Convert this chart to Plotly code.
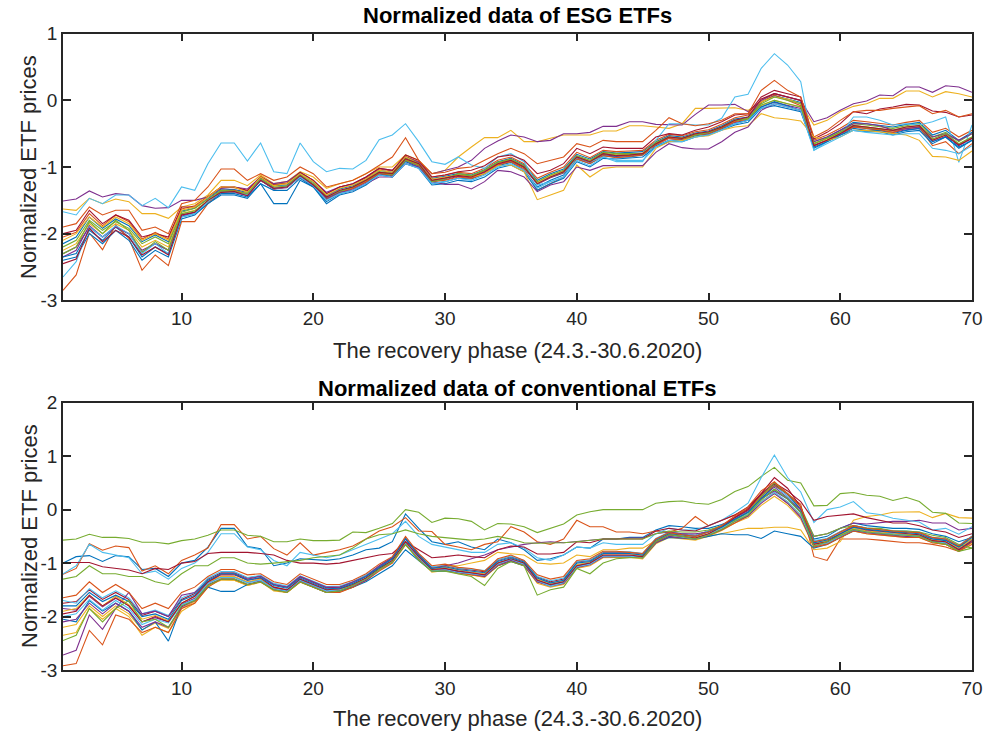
import plotly.graph_objects as go

# Trading days of the recovery phase (24.3.-30.6.2020)
days = list(range(1, 71))

# ---------------- Normalized ESG ETF prices ----------------
esg_01 = [-2.35, -2.3, -1.95, -2.1, -1.9, -2.05, -2.35, -2.2, -2.3, -1.75,
          -1.7, -1.55, -1.4, -1.4, -1.45, -1.25, -1.55, -1.55, -1.2, -1.3,
          -1.52, -1.4, -1.35, -1.25, -1.1, -1.15, -0.92, -1.0, -1.25, -1.22,
          -1.17, -1.18, -1.1, -0.98, -0.93, -1.05, -1.3, -1.2, -1.12, -0.88,
          -0.95, -0.83, -0.85, -0.85, -0.82, -0.68, -0.6, -0.6, -0.53, -0.5,
          -0.43, -0.35, -0.3, -0.1, -0.02, -0.08, -0.15, -0.7, -0.62, -0.52,
          -0.42, -0.45, -0.45, -0.5, -0.45, -0.42, -0.62, -0.55, -0.7, -0.6]
esg_02 = [-2.85, -2.62, -1.99, -2.24, -1.87, -2.07, -2.55, -2.32, -2.48, -1.82,
          -1.82, -1.55, -1.35, -1.35, -1.4, -1.2, -1.33, -1.3, -1.15, -1.28,
          -1.48, -1.38, -1.32, -1.22, -1.1, -1.12, -0.9, -0.98, -1.22, -1.2,
          -1.15, -1.17, -1.1, -0.97, -0.92, -1.03, -1.35, -1.25, -1.15, -0.88,
          -0.95, -0.83, -0.86, -0.84, -0.82, -0.67, -0.57, -0.6, -0.52, -0.5,
          -0.42, -0.32, -0.28, -0.03, 0.08, 0.0, -0.08, -0.68, -0.6, -0.5,
          -0.4, -0.42, -0.44, -0.48, -0.42, -0.4, -0.68, -0.62, -0.8, -0.65]
esg_03 = [-1.63, -1.65, -1.47, -1.55, -1.48, -1.52, -1.7, -1.7, -1.77, -1.6,
          -1.55, -1.42, -1.2, -1.2, -1.28, -1.12, -1.25, -1.22, -1.07, -1.15,
          -1.32, -1.25, -1.2, -1.1, -1.0, -1.0, -0.82, -0.9, -1.1, -1.05,
          -0.85, -0.7, -0.56, -0.56, -0.45, -0.62, -0.62, -0.57, -0.52, -0.52,
          -0.52, -0.46, -0.46, -0.38, -0.38, -0.4, -0.42, -0.35, -0.12, -0.12,
          -0.12, -0.11, -0.15, -0.02, 0.05, 0.02, -0.05, -0.37, -0.3, -0.17,
          -0.09, -0.05, 0.03, 0.03, 0.14, 0.14, 0.05, 0.13, 0.1, 0.05]
esg_04 = [-1.51, -1.48, -1.36, -1.45, -1.4, -1.42, -1.58, -1.62, -1.61, -1.5,
          -1.5, -1.45, -1.32, -1.3, -1.33, -1.15, -1.25, -1.22, -1.08, -1.2,
          -1.38, -1.3, -1.25, -1.15, -1.02, -1.05, -0.85, -0.93, -1.1, -1.05,
          -1.0, -0.9, -0.72, -0.61, -0.52, -0.55, -0.62, -0.6, -0.5, -0.5,
          -0.48, -0.39, -0.39, -0.32, -0.32, -0.36, -0.37, -0.37, -0.21, -0.07,
          -0.07, -0.06, -0.17, 0.0, 0.1, 0.05, 0.0, -0.32, -0.26, -0.15,
          -0.05, -0.01, 0.08, 0.07, 0.2, 0.2, 0.12, 0.22, 0.2, 0.12]
esg_05 = [-2.2, -2.1, -1.8, -1.95, -1.82, -1.92, -2.15, -2.05, -2.15, -1.68,
          -1.62, -1.48, -1.35, -1.36, -1.42, -1.18, -1.3, -1.3, -1.13, -1.27,
          -1.47, -1.37, -1.3, -1.2, -1.08, -1.12, -0.9, -0.97, -1.2, -1.17,
          -1.12, -1.13, -1.05, -0.93, -0.88, -0.98, -1.22, -1.12, -1.05, -0.83,
          -0.9, -0.78, -0.8, -0.8, -0.8, -0.65, -0.55, -0.57, -0.52, -0.48,
          -0.4, -0.3, -0.28, -0.05, 0.05, 0.0, -0.05, -0.65, -0.57, -0.47,
          -0.35, -0.37, -0.4, -0.42, -0.38, -0.35, -0.55, -0.48, -0.62, -0.5]
esg_06 = [-1.67, -1.72, -1.47, -1.55, -1.42, -1.42, -1.58, -1.47, -1.61, -1.3,
          -1.35, -0.95, -0.64, -0.64, -0.91, -0.64, -1.07, -1.1, -0.64, -0.92,
          -1.07, -1.02, -1.03, -0.9, -0.59, -0.52, -0.35, -0.62, -0.92, -0.96,
          -0.85, -0.97, -1.02, -0.85, -0.8, -0.92, -1.27, -1.22, -1.15, -0.85,
          -0.92, -0.85, -0.92, -0.92, -0.92, -0.6, -0.35, -0.35, -0.37, -0.37,
          -0.27, 0.05, 0.09, 0.48, 0.7, 0.53, 0.28, -0.75, -0.62, -0.52,
          -0.25, -0.25, -0.3, -0.37, -0.35, -0.37, -0.32, -0.25, -0.93, -0.37]
esg_07 = [-2.0, -1.95, -1.65, -1.85, -1.72, -1.8, -2.05, -2.0, -2.05, -1.6,
          -1.6, -1.45, -1.3, -1.3, -1.35, -1.15, -1.27, -1.25, -1.08, -1.2,
          -1.4, -1.3, -1.25, -1.15, -1.02, -1.05, -0.82, -0.9, -1.15, -1.12,
          -1.07, -1.05, -0.98, -0.85, -0.82, -0.9, -1.1, -1.05, -0.95, -0.72,
          -0.8, -0.7, -0.72, -0.72, -0.72, -0.55, -0.5, -0.52, -0.45, -0.4,
          -0.32, -0.22, -0.2, 0.05, 0.15, 0.1, 0.05, -0.58, -0.48, -0.35,
          -0.17, -0.2, -0.13, -0.1, -0.06, -0.07, -0.16, -0.18, -0.25, -0.22]
esg_08 = [-2.4, -2.35, -2.0, -2.15, -1.95, -2.1, -2.4, -2.25, -2.35, -1.78,
          -1.72, -1.55, -1.42, -1.42, -1.47, -1.25, -1.35, -1.35, -1.17, -1.3,
          -1.55, -1.42, -1.37, -1.27, -1.12, -1.15, -0.95, -1.02, -1.27, -1.25,
          -1.2, -1.22, -1.15, -1.02, -0.97, -1.07, -1.35, -1.25, -1.17, -0.92,
          -1.0, -0.87, -0.88, -0.87, -0.85, -0.7, -0.62, -0.62, -0.55, -0.52,
          -0.45, -0.37, -0.33, -0.12, -0.08, -0.12, -0.17, -0.72, -0.62, -0.52,
          -0.45, -0.47, -0.47, -0.52, -0.47, -0.45, -0.65, -0.55, -0.72, -0.6]
esg_09 = [-1.9, -1.85, -1.6, -1.72, -1.65, -1.65, -1.95, -1.9, -2.0, -1.55,
          -1.5, -1.3, -1.03, -1.03, -1.2, -1.1, -1.2, -1.15, -1.0, -1.1,
          -1.3, -1.25, -1.2, -1.1, -0.98, -0.85, -0.56, -0.9, -1.1, -1.08,
          -1.02, -1.0, -0.9, -0.8, -0.72, -0.8, -0.95, -0.9, -0.85, -0.65,
          -0.7, -0.6, -0.62, -0.62, -0.62, -0.45, -0.26, -0.35, -0.38, -0.35,
          -0.3, -0.2, -0.2, 0.15, 0.3, 0.15, 0.05, -0.55, -0.45, -0.3,
          -0.17, -0.15, -0.15, -0.12, -0.1, -0.08, -0.2, -0.15, -0.25, -0.2]
esg_10 = [-2.1, -2.0, -1.75, -1.9, -1.75, -1.85, -2.1, -2.0, -2.1, -1.65,
          -1.6, -1.45, -1.3, -1.3, -1.38, -1.15, -1.28, -1.25, -1.1, -1.22,
          -1.42, -1.32, -1.27, -1.18, -1.05, -1.08, -0.85, -0.95, -1.18, -1.15,
          -1.12, -1.15, -1.1, -0.98, -0.97, -1.07, -1.49, -1.42, -1.35, -0.97,
          -1.15, -1.02, -1.0, -1.0, -1.0, -0.72, -0.62, -0.6, -0.55, -0.53,
          -0.45, -0.4, -0.38, -0.2, -0.26, -0.28, -0.31, -0.55, -0.6, -0.55,
          -0.45, -0.45, -0.47, -0.5, -0.52, -0.6, -0.84, -0.85, -0.9, -0.76]
esg_11 = [-2.3, -2.2, -1.9, -2.05, -1.9, -2.0, -2.25, -2.15, -2.25, -1.72,
          -1.68, -1.52, -1.38, -1.38, -1.43, -1.2, -1.33, -1.3, -1.15, -1.28,
          -1.47, -1.38, -1.35, -1.25, -1.15, -1.15, -0.95, -1.0, -1.22, -1.26,
          -1.26, -1.33, -1.22, -1.05, -1.07, -1.15, -1.37, -1.27, -1.22, -1.0,
          -1.05, -0.98, -0.98, -0.98, -0.98, -0.78, -0.65, -0.71, -0.73, -0.73,
          -0.62, -0.48, -0.4, -0.15, -0.05, -0.1, -0.15, -0.62, -0.55, -0.45,
          -0.35, -0.35, -0.38, -0.45, -0.42, -0.4, -0.55, -0.5, -0.6, -0.5]
esg_12 = [-2.3, -2.2, -1.82, -2.0, -1.8, -1.95, -2.28, -2.12, -2.25, -1.7,
          -1.66, -1.52, -1.37, -1.37, -1.4, -1.18, -1.32, -1.28, -1.12, -1.25,
          -1.45, -1.36, -1.3, -1.2, -1.07, -1.1, -0.87, -0.95, -1.22, -1.18,
          -1.1, -1.13, -1.05, -0.93, -0.9, -1.0, -1.25, -1.15, -1.08, -0.85,
          -0.92, -0.8, -0.82, -0.82, -0.8, -0.63, -0.55, -0.57, -0.5, -0.48,
          -0.4, -0.3, -0.27, -0.07, 0.0, -0.05, -0.1, -0.65, -0.57, -0.48,
          -0.38, -0.4, -0.42, -0.45, -0.4, -0.38, -0.58, -0.5, -0.65, -0.55]
esg_13 = [-2.65, -2.42, -1.9, -2.05, -1.88, -2.0, -2.3, -2.15, -2.3, -1.75,
          -1.7, -1.52, -1.38, -1.38, -1.42, -1.2, -1.32, -1.3, -1.15, -1.28,
          -1.5, -1.4, -1.35, -1.25, -1.12, -1.15, -0.95, -1.02, -1.25, -1.22,
          -1.17, -1.2, -1.12, -1.0, -0.95, -1.05, -1.32, -1.22, -1.15, -0.9,
          -0.98, -0.85, -0.9, -0.9, -0.9, -0.7, -0.6, -0.62, -0.55, -0.52,
          -0.45, -0.35, -0.3, -0.12, -0.05, -0.1, -0.15, -0.75, -0.65, -0.55,
          -0.45, -0.48, -0.5, -0.52, -0.5, -0.5, -0.72, -0.75, -0.8, -0.68]
esg_14 = [-2.45, -2.38, -1.92, -2.12, -1.95, -2.05, -2.32, -2.2, -2.32, -1.72,
          -1.68, -1.5, -1.38, -1.37, -1.43, -1.2, -1.32, -1.3, -1.13, -1.27,
          -1.45, -1.35, -1.3, -1.2, -1.08, -1.1, -0.88, -0.95, -1.2, -1.17,
          -1.13, -1.15, -1.07, -0.95, -0.9, -1.0, -1.25, -1.15, -1.07, -0.85,
          -0.92, -0.8, -0.83, -0.82, -0.8, -0.65, -0.55, -0.57, -0.5, -0.47,
          -0.4, -0.3, -0.25, 0.02, 0.1, 0.05, 0.0, -0.68, -0.6, -0.5,
          -0.38, -0.4, -0.42, -0.45, -0.4, -0.38, -0.6, -0.52, -0.67, -0.57]
esg_15 = [-2.15, -2.05, -1.75, -1.92, -1.78, -1.88, -2.12, -2.02, -2.12, -1.66,
          -1.62, -1.47, -1.33, -1.34, -1.38, -1.16, -1.28, -1.27, -1.1, -1.23,
          -1.43, -1.33, -1.28, -1.18, -1.05, -1.08, -0.86, -0.94, -1.17, -1.14,
          -1.1, -1.12, -1.04, -0.92, -0.87, -0.97, -1.2, -1.1, -1.03, -0.81,
          -0.88, -0.77, -0.79, -0.78, -0.77, -0.62, -0.53, -0.55, -0.49, -0.46,
          -0.38, -0.28, -0.25, -0.02, 0.07, 0.02, -0.03, -0.62, -0.55, -0.45,
          -0.33, -0.35, -0.37, -0.4, -0.36, -0.33, -0.52, -0.45, -0.6, -0.48]
esg_16 = [-2.05, -1.98, -1.7, -1.88, -1.72, -1.82, -2.08, -1.98, -2.08, -1.63,
          -1.58, -1.44, -1.3, -1.31, -1.36, -1.14, -1.26, -1.24, -1.08, -1.2,
          -1.4, -1.3, -1.26, -1.16, -1.03, -1.06, -0.84, -0.92, -1.15, -1.12,
          -1.08, -1.1, -1.02, -0.9, -0.85, -0.95, -1.17, -1.08, -1.0, -0.78,
          -0.86, -0.75, -0.77, -0.76, -0.75, -0.6, -0.51, -0.53, -0.47, -0.44,
          -0.36, -0.26, -0.22, 0.0, 0.1, 0.05, 0.0, -0.6, -0.52, -0.42,
          -0.3, -0.32, -0.34, -0.37, -0.33, -0.3, -0.48, -0.42, -0.55, -0.45]
esg_17 = [-2.25, -2.15, -1.85, -2.0, -1.85, -1.95, -2.2, -2.1, -2.2, -1.7,
          -1.65, -1.5, -1.36, -1.36, -1.41, -1.18, -1.3, -1.29, -1.12, -1.26,
          -1.46, -1.36, -1.31, -1.21, -1.08, -1.11, -0.89, -0.96, -1.2, -1.17,
          -1.12, -1.14, -1.06, -0.94, -0.89, -0.99, -1.23, -1.13, -1.06, -0.84,
          -0.91, -0.79, -0.82, -0.81, -0.79, -0.64, -0.55, -0.57, -0.51, -0.49,
          -0.41, -0.31, -0.28, -0.08, 0.0, -0.05, -0.1, -0.64, -0.58, -0.48,
          -0.38, -0.4, -0.43, -0.46, -0.42, -0.4, -0.6, -0.52, -0.66, -0.55]
esg_18 = [-2.35, -2.25, -1.88, -2.05, -1.9, -2.0, -2.28, -2.15, -2.25, -1.74,
          -1.68, -1.52, -1.38, -1.38, -1.42, -1.2, -1.33, -1.31, -1.14, -1.28,
          -1.49, -1.38, -1.33, -1.23, -1.1, -1.13, -0.91, -0.98, -1.22, -1.19,
          -1.14, -1.16, -1.08, -0.96, -0.91, -1.01, -1.26, -1.16, -1.09, -0.86,
          -0.93, -0.81, -0.84, -0.83, -0.81, -0.66, -0.57, -0.59, -0.52, -0.5,
          -0.42, -0.33, -0.3, -0.1, -0.03, -0.08, -0.12, -0.67, -0.6, -0.5,
          -0.4, -0.42, -0.45, -0.48, -0.44, -0.42, -0.62, -0.54, -0.68, -0.57]

# ---------------- Normalized conventional ETF prices ----------------
conv_01 = [-1.0, -0.88, -0.86, -0.97, -0.86, -0.88, -1.12, -1.1, -1.25, -1.0,
           -0.95, -0.7, -0.35, -0.35, -0.69, -0.73, -1.05, -1.0, -0.92, -0.93,
           -0.95, -0.92, -0.85, -0.75, -0.72, -0.6, -0.08, -0.35, -0.6, -0.65,
           -0.6, -0.7, -0.75, -0.55, -0.62, -0.75, -0.95, -0.92, -0.85, -0.7,
           -0.72, -0.55, -0.55, -0.52, -0.52, -0.38, -0.3, -0.32, -0.35, -0.35,
           -0.28, -0.18, -0.05, 0.2, 0.45, 0.3, 0.0, -0.55, -0.5, -0.35,
           -0.25, -0.3, -0.32, -0.35, -0.35, -0.37, -0.45, -0.5, -0.6, -0.52]
conv_02 = [-1.21, -1.1, -0.64, -0.76, -0.68, -0.71, -1.15, -1.05, -1.2, -0.95,
           -0.85, -0.72, -0.28, -0.28, -0.55, -0.5, -0.73, -0.85, -0.62, -0.85,
           -0.8, -0.75, -0.68, -0.55, -0.4, -0.32, -0.15, -0.4, -0.41, -0.65,
           -0.7, -0.75, -0.65, -0.6, -0.32, -0.42, -0.6, -0.65, -0.55, -0.2,
           -0.32, -0.32, -0.42, -0.42, -0.45, -0.4, -0.42, -0.35, -0.13, -0.3,
           -0.2, -0.1, 0.0, 0.25, 0.45, 0.3, 0.1, -0.88, -0.95, -0.55,
           -0.55, -0.55, -0.57, -0.6, -0.62, -0.62, -0.65, -0.7, -0.78, -0.65]
conv_03 = [-2.35, -2.3, -1.85, -2.05, -1.85, -2.0, -2.35, -2.2, -2.3, -1.9,
           -1.75, -1.45, -1.3, -1.32, -1.42, -1.35, -1.52, -1.55, -1.35, -1.45,
           -1.55, -1.52, -1.45, -1.3, -1.1, -0.95, -0.65, -0.92, -1.1, -1.05,
           -1.05, -1.0, -0.95, -0.8, -0.82, -0.85, -1.0, -1.02, -1.0, -0.85,
           -0.88, -0.75, -0.75, -0.72, -0.72, -0.58, -0.52, -0.52, -0.55, -0.5,
           -0.45, -0.4, -0.35, -0.35, -0.33, -0.33, -0.38, -0.75, -0.72, -0.6,
           -0.2, -0.13, -0.1, -0.05, -0.04, -0.04, -0.15, -0.07, -0.15, -0.16]
conv_04 = [-2.72, -2.63, -1.97, -2.24, -1.85, -1.55, -1.95, -1.9, -2.0, -1.6,
           -1.55, -1.35, -1.2, -1.2, -1.3, -1.25, -1.4, -1.45, -1.25, -1.35,
           -1.45, -1.45, -1.35, -1.25, -1.05, -0.9, -0.55, -0.85, -1.1, -1.05,
           -1.0, -0.92, -0.85, -0.75, -0.7, -0.65, -0.62, -0.6, -0.62, -0.6,
           -0.58, -0.55, -0.55, -0.53, -0.53, -0.45, -0.42, -0.45, -0.45, -0.42,
           -0.3, -0.15, -0.02, 0.2, 0.35, 0.2, 0.0, -0.5, -0.45, -0.35,
           -0.25, -0.27, -0.25, -0.22, -0.22, -0.2, -0.25, -0.25, -0.38, -0.35]
conv_05 = [-0.57, -0.55, -0.46, -0.52, -0.52, -0.54, -0.61, -0.61, -0.64, -0.58,
           -0.55, -0.48, -0.38, -0.38, -0.48, -0.5, -0.6, -0.6, -0.55, -0.58,
           -0.58, -0.57, -0.42, -0.43, -0.35, -0.26, 0.0, -0.05, -0.24, -0.16,
           -0.17, -0.22, -0.38, -0.26, -0.27, -0.32, -0.43, -0.35, -0.27, -0.1,
           -0.04, 0.0, 0.0, 0.0, 0.0, 0.12, 0.15, 0.16, 0.12, 0.1,
           0.19, 0.34, 0.43, 0.62, 0.79, 0.55, 0.5, 0.07, 0.08, 0.3,
           0.32, 0.27, 0.25, 0.17, 0.23, 0.15, -0.05, -0.07, -0.25, -0.26]
conv_06 = [-1.2, -1.05, -0.65, -0.8, -0.85, -0.9, -1.2, -1.15, -1.3, -1.1,
           -1.0, -0.8, -0.45, -0.45, -0.7, -0.75, -0.95, -1.05, -0.8, -0.85,
           -0.9, -0.85, -0.75, -0.65, -0.55, -0.45, -0.22, -0.5, -0.65, -0.7,
           -0.75, -0.8, -0.8, -0.65, -0.62, -0.72, -0.9, -0.95, -0.85, -0.7,
           -0.72, -0.62, -0.65, -0.65, -0.65, -0.45, -0.35, -0.38, -0.38, -0.3,
           -0.2, -0.05, 0.12, 0.6, 1.02, 0.6, 0.33, -0.24, 0.0, 0.05,
           0.15, -0.06, -0.09, -0.16, -0.2, -0.23, -0.38, -0.35, -0.46, -0.32]
conv_07 = [-0.99, -0.99, -0.99, -1.07, -1.1, -1.13, -1.2, -1.1, -1.12, -1.0,
           -0.97, -0.82, -0.8, -0.8, -0.8, -0.82, -0.85, -0.95, -1.0, -1.0,
           -1.02, -1.0, -0.95, -0.9, -0.85, -0.82, -0.6, -0.75, -0.9, -0.88,
           -0.85, -0.88, -0.9, -0.75, -0.68, -0.7, -0.83, -0.83, -0.8, -0.6,
           -0.62, -0.55, -0.55, -0.55, -0.55, -0.4, -0.35, -0.38, -0.4, -0.3,
           -0.2, -0.1, 0.05, 0.3, 0.5, 0.35, 0.15, -0.2, -0.13, -0.1,
           -0.08, -0.15, -0.2, -0.25, -0.25, -0.3, -0.38, -0.42, -0.52, -0.45]
conv_08 = [-2.05, -2.1, -1.7, -1.9, -1.75, -1.9, -2.25, -2.1, -2.46, -1.8,
           -1.7, -1.45, -1.53, -1.53, -1.4, -1.35, -1.5, -1.52, -1.35, -1.45,
           -1.55, -1.52, -1.45, -1.35, -1.2, -1.05, -0.75, -0.95, -1.15, -1.15,
           -1.15, -1.2, -1.25, -1.05, -0.97, -1.05, -1.35, -1.4, -1.35, -1.05,
           -1.0, -0.88, -0.88, -0.88, -0.9, -0.62, -0.52, -0.53, -0.55, -0.5,
           -0.45, -0.47, -0.47, -0.54, -0.4, -0.45, -0.5, -0.72, -0.65, -0.52,
           -0.4, -0.42, -0.45, -0.45, -0.47, -0.48, -0.55, -0.58, -0.7, -0.55]
conv_09 = [-2.92, -2.88, -2.26, -2.53, -1.97, -2.05, -2.3, -2.2, -2.3, -1.85,
           -1.75, -1.45, -1.3, -1.3, -1.4, -1.35, -1.5, -1.55, -1.35, -1.45,
           -1.55, -1.55, -1.45, -1.32, -1.15, -1.0, -0.65, -0.92, -1.15, -1.12,
           -1.18, -1.22, -1.25, -1.05, -0.95, -1.05, -1.35, -1.42, -1.38, -1.08,
           -1.02, -0.88, -0.88, -0.88, -0.9, -0.62, -0.5, -0.52, -0.55, -0.48,
           -0.38, -0.25, -0.12, 0.15, 0.32, 0.12, -0.12, -0.7, -0.65, -0.52,
           -0.4, -0.45, -0.47, -0.5, -0.52, -0.52, -0.62, -0.65, -0.78, -0.6]
conv_10 = [-1.9, -1.85, -1.6, -1.8, -1.62, -1.78, -2.05, -1.98, -2.08, -1.75,
           -1.62, -1.35, -1.25, -1.25, -1.35, -1.3, -1.45, -1.5, -1.3, -1.4,
           -1.5, -1.48, -1.4, -1.28, -1.1, -0.95, -0.6, -0.88, -1.12, -1.08,
           -1.13, -1.17, -1.2, -1.0, -0.92, -1.0, -1.3, -1.38, -1.33, -1.03,
           -0.98, -0.83, -0.83, -0.83, -0.86, -0.58, -0.46, -0.5, -0.52, -0.45,
           -0.35, -0.2, -0.08, 0.15, 0.3, 0.15, -0.1, -0.63, -0.58, -0.47,
           -0.35, -0.4, -0.42, -0.45, -0.47, -0.48, -0.57, -0.6, -0.72, -0.55]
conv_11 = [-2.1, -2.05, -1.75, -1.95, -1.75, -1.9, -2.2, -2.1, -2.2, -1.82,
           -1.7, -1.4, -1.3, -1.3, -1.4, -1.33, -1.48, -1.52, -1.33, -1.42,
           -1.52, -1.52, -1.43, -1.32, -1.12, -0.97, -0.63, -0.9, -1.15, -1.12,
           -1.18, -1.2, -1.25, -1.03, -0.95, -1.03, -1.35, -1.43, -1.38, -1.08,
           -1.03, -0.88, -0.88, -0.87, -0.9, -0.62, -0.5, -0.52, -0.55, -0.48,
           -0.37, -0.22, -0.12, 0.12, 0.3, 0.12, -0.15, -0.68, -0.62, -0.5,
           -0.38, -0.43, -0.45, -0.48, -0.5, -0.5, -0.6, -0.63, -0.75, -0.6]
conv_12 = [-1.3, -1.25, -1.05, -1.2, -1.2, -1.25, -1.25, -1.35, -1.4, -1.2,
           -1.05, -1.05, -0.9, -0.9, -1.0, -1.02, -1.0, -0.98, -0.95, -0.9,
           -0.88, -0.85, -0.72, -0.55, -0.47, -0.45, -0.38, -0.45, -0.5, -0.52,
           -0.55, -0.57, -0.55, -0.5, -0.55, -0.62, -0.63, -0.63, -0.62, -0.6,
           -0.58, -0.55, -0.55, -0.55, -0.55, -0.45, -0.4, -0.42, -0.42, -0.38,
           -0.3, -0.2, -0.05, 0.25, 0.5, 0.3, 0.05, -0.5, -0.45, -0.35,
           -0.3, -0.35, -0.35, -0.4, -0.4, -0.42, -0.48, -0.52, -0.65, -0.72]
conv_13 = [-2.0, -1.95, -1.68, -1.88, -1.7, -1.85, -2.15, -2.05, -2.12, -1.78,
           -1.68, -1.38, -1.27, -1.27, -1.37, -1.32, -1.48, -1.52, -1.32, -1.42,
           -1.52, -1.5, -1.42, -1.3, -1.12, -0.97, -0.62, -0.9, -1.15, -1.12,
           -1.17, -1.2, -1.23, -1.02, -0.93, -1.02, -1.33, -1.43, -1.37, -1.07,
           -1.02, -0.87, -0.87, -0.87, -0.9, -0.6, -0.48, -0.52, -0.55, -0.47,
           -0.35, -0.22, -0.08, 0.15, 0.32, 0.15, -0.1, -0.67, -0.62, -0.5,
           -0.37, -0.42, -0.44, -0.47, -0.48, -0.5, -0.6, -0.62, -0.75, -0.58]
conv_14 = [-1.95, -1.9, -1.6, -1.8, -1.65, -1.8, -2.1, -2.0, -2.1, -1.75,
           -1.62, -1.35, -1.22, -1.22, -1.32, -1.28, -1.45, -1.5, -1.3, -1.4,
           -1.5, -1.48, -1.4, -1.28, -1.1, -0.95, -0.6, -0.88, -1.12, -1.1,
           -1.15, -1.18, -1.22, -1.0, -0.92, -1.0, -1.32, -1.4, -1.35, -1.05,
           -1.0, -0.85, -0.85, -0.85, -0.88, -0.6, -0.47, -0.5, -0.53, -0.45,
           -0.32, -0.15, 0.0, 0.3, 0.6, 0.4, 0.05, -0.65, -0.6, -0.45,
           -0.32, -0.38, -0.4, -0.42, -0.45, -0.47, -0.58, -0.6, -0.75, -0.58]
conv_15 = [-1.8, -1.8, -1.55, -1.72, -1.6, -1.72, -2.0, -1.95, -2.05, -1.7,
           -1.6, -1.32, -1.2, -1.2, -1.32, -1.27, -1.42, -1.47, -1.28, -1.38,
           -1.48, -1.47, -1.38, -1.25, -1.08, -0.92, -0.55, -0.85, -1.1, -1.07,
           -1.12, -1.15, -1.18, -0.97, -0.9, -0.98, -1.28, -1.37, -1.32, -1.0,
           -0.97, -0.82, -0.82, -0.82, -0.85, -0.57, -0.45, -0.48, -0.5, -0.42,
           -0.33, -0.18, -0.05, 0.2, 0.38, 0.2, -0.05, -0.62, -0.57, -0.45,
           -0.33, -0.37, -0.4, -0.42, -0.43, -0.45, -0.55, -0.57, -0.7, -0.52]
conv_16 = [-1.65, -1.6, -1.35, -1.55, -1.4, -1.55, -1.85, -1.75, -1.85, -1.55,
           -1.45, -1.25, -1.12, -1.12, -1.22, -1.2, -1.35, -1.4, -1.2, -1.3,
           -1.4, -1.4, -1.32, -1.2, -1.02, -0.88, -0.5, -0.82, -1.05, -1.02,
           -1.08, -1.1, -1.15, -0.92, -0.85, -0.95, -1.22, -1.3, -1.25, -0.95,
           -0.92, -0.78, -0.78, -0.8, -0.82, -0.55, -0.43, -0.47, -0.5, -0.42,
           -0.3, -0.12, 0.05, 0.35, 0.52, 0.3, 0.05, -0.6, -0.55, -0.42,
           -0.3, -0.35, -0.38, -0.4, -0.42, -0.43, -0.52, -0.55, -0.68, -0.5]
conv_17 = [-2.45, -2.35, -1.85, -2.1, -1.85, -1.7, -2.1, -2.05, -2.2, -1.8,
           -1.7, -1.42, -1.3, -1.3, -1.4, -1.35, -1.5, -1.55, -1.35, -1.45,
           -1.55, -1.52, -1.42, -1.3, -1.12, -0.98, -0.65, -0.95, -1.15, -1.15,
           -1.2, -1.25, -1.42, -1.1, -0.97, -1.05, -1.6, -1.5, -1.45, -1.1,
           -1.2, -1.0, -0.92, -0.9, -0.9, -0.6, -0.47, -0.5, -0.55, -0.48,
           -0.37, -0.22, -0.1, 0.18, 0.38, 0.2, -0.05, -0.68, -0.6, -0.48,
           -0.37, -0.42, -0.45, -0.47, -0.48, -0.5, -0.6, -0.65, -0.78, -0.72]
conv_18 = [-1.75, -1.72, -1.5, -1.68, -1.55, -1.68, -1.98, -1.9, -2.0, -1.68,
           -1.57, -1.3, -1.18, -1.18, -1.28, -1.24, -1.4, -1.45, -1.26, -1.36,
           -1.46, -1.45, -1.36, -1.23, -1.06, -0.9, -0.53, -0.84, -1.08, -1.05,
           -1.1, -1.13, -1.16, -0.95, -0.88, -0.96, -1.26, -1.35, -1.3, -0.98,
           -0.95, -0.8, -0.8, -0.8, -0.83, -0.55, -0.43, -0.46, -0.48, -0.4,
           -0.3, -0.14, 0.02, 0.28, 0.48, 0.28, 0.0, -0.6, -0.55, -0.42,
           -0.3, -0.35, -0.38, -0.4, -0.41, -0.43, -0.53, -0.55, -0.68, -0.5]
conv_19 = [-1.85, -1.88, -1.62, -1.82, -1.66, -1.8, -2.1, -2.02, -2.1, -1.77,
           -1.66, -1.37, -1.26, -1.26, -1.36, -1.31, -1.46, -1.51, -1.31, -1.41,
           -1.51, -1.49, -1.41, -1.29, -1.11, -0.96, -0.61, -0.89, -1.13, -1.1,
           -1.16, -1.19, -1.22, -1.01, -0.93, -1.01, -1.31, -1.41, -1.36, -1.06,
           -1.01, -0.86, -0.86, -0.86, -0.89, -0.6, -0.48, -0.51, -0.54, -0.46,
           -0.34, -0.19, -0.05, 0.22, 0.42, 0.22, -0.05, -0.64, -0.6, -0.47,
           -0.35, -0.4, -0.43, -0.46, -0.47, -0.49, -0.59, -0.61, -0.73, -0.57]
conv_20 = [-1.7, -1.75, -1.48, -1.65, -1.52, -1.65, -1.95, -1.88, -1.98, -1.65,
           -1.55, -1.28, -1.16, -1.16, -1.27, -1.23, -1.38, -1.43, -1.24, -1.34,
           -1.44, -1.43, -1.35, -1.22, -1.05, -0.89, -0.52, -0.83, -1.07, -1.04,
           -1.09, -1.12, -1.14, -0.94, -0.87, -0.95, -1.25, -1.33, -1.28, -0.97,
           -0.94, -0.79, -0.79, -0.79, -0.82, -0.54, -0.42, -0.45, -0.48, -0.4,
           -0.31, -0.16, 0.0, 0.25, 0.45, 0.25, 0.0, -0.58, -0.54, -0.41,
           -0.3, -0.34, -0.37, -0.39, -0.4, -0.42, -0.52, -0.54, -0.67, -0.49]
conv_21 = [-2.2, -2.15, -1.8, -2.0, -1.8, -1.95, -2.25, -2.12, -2.22, -1.85,
           -1.72, -1.42, -1.32, -1.32, -1.42, -1.36, -1.5, -1.55, -1.36, -1.45,
           -1.55, -1.54, -1.45, -1.33, -1.14, -0.99, -0.66, -0.93, -1.17, -1.14,
           -1.2, -1.22, -1.27, -1.05, -0.97, -1.05, -1.38, -1.45, -1.4, -1.1,
           -1.05, -0.9, -0.9, -0.89, -0.92, -0.64, -0.52, -0.54, -0.57, -0.5,
           -0.39, -0.25, -0.15, 0.08, 0.25, 0.08, -0.18, -0.7, -0.64, -0.52,
           -0.4, -0.45, -0.47, -0.5, -0.52, -0.52, -0.62, -0.65, -0.77, -0.62]

# MATLAB default line colour order
BLUE, ORANGE, YELLOW, PURPLE = "#0072BD", "#D95319", "#EDB120", "#7E2F8E"
GREEN, CYAN, DARKRED = "#77AC30", "#4DBEEE", "#A2142F"

esg_traces = [
    (esg_15, BLUE), (esg_16, ORANGE), (esg_17, YELLOW), (esg_18, PURPLE),
    (esg_01, BLUE), (esg_02, ORANGE), (esg_03, YELLOW), (esg_04, PURPLE),
    (esg_05, GREEN), (esg_06, CYAN), (esg_07, DARKRED), (esg_08, BLUE),
    (esg_09, ORANGE), (esg_10, YELLOW), (esg_11, PURPLE), (esg_12, GREEN),
    (esg_13, CYAN), (esg_14, DARKRED),
]
conv_traces = [
    (conv_18, DARKRED), (conv_19, PURPLE), (conv_20, CYAN), (conv_21, YELLOW),
    (conv_01, BLUE), (conv_02, ORANGE), (conv_03, YELLOW), (conv_04, PURPLE),
    (conv_05, GREEN), (conv_06, CYAN), (conv_07, DARKRED), (conv_08, BLUE),
    (conv_09, ORANGE), (conv_10, YELLOW), (conv_11, PURPLE), (conv_12, GREEN),
    (conv_13, CYAN), (conv_14, DARKRED), (conv_15, BLUE), (conv_16, ORANGE),
    (conv_17, GREEN),
]

x_ticks = [10, 20, 30, 40, 50, 60, 70]
esg_y_ticks = [-3, -2, -1, 0, 1]
conv_y_ticks = [-3, -2, -1, 0, 1, 2]

FONT = "Liberation Sans, Arial, Helvetica, sans-serif"
AXIS_COLOR = "#262626"

fig = go.Figure()
for vals, col in esg_traces:
    fig.add_trace(go.Scatter(x=days, y=vals, mode="lines", xaxis="x", yaxis="y",
                             line=dict(color=col, width=1.1), showlegend=False,
                             hoverinfo="skip"))
for vals, col in conv_traces:
    fig.add_trace(go.Scatter(x=days, y=vals, mode="lines", xaxis="x2", yaxis="y2",
                             line=dict(color=col, width=1.1), showlegend=False,
                             hoverinfo="skip"))

axis_style = dict(showline=True, mirror="allticks", linecolor=AXIS_COLOR, linewidth=1.5,
                  ticks="inside", ticklen=8, tickwidth=1.5, tickcolor=AXIS_COLOR,
                  showgrid=False, zeroline=False, automargin=False,
                  tickfont=dict(family=FONT, size=19, color=AXIS_COLOR))

X_DOM = [63 / 985, 972 / 985]
fig.update_layout(
    template="none",
    width=985, height=734, autosize=False,
    margin=dict(l=0, r=0, t=0, b=0, pad=0),
    paper_bgcolor="white", plot_bgcolor="white",
    xaxis=dict(domain=X_DOM, range=[1, 70], anchor="y", tickvals=x_ticks,
               ticktext=[str(t) for t in x_ticks], **axis_style),
    yaxis=dict(domain=[1 - 300.3 / 734, 1 - 33.7 / 734], range=[-3, 1], anchor="x",
               tickvals=esg_y_ticks, ticktext=[str(t) for t in esg_y_ticks], **axis_style),
    xaxis2=dict(domain=X_DOM, range=[1, 70], anchor="y2", tickvals=x_ticks,
                ticktext=[str(t) for t in x_ticks], **axis_style),
    yaxis2=dict(domain=[1 - 670 / 734, 1 - 402.7 / 734], range=[-3, 2], anchor="x2",
                tickvals=conv_y_ticks, ticktext=[str(t) for t in conv_y_ticks], **axis_style),
)

cx = (63 + 972) / 2 / 985
labels = [
    ("<b>Normalized data of ESG ETFs</b>", cx, 16, 0, "black"),
    ("The recovery phase (24.3.-30.6.2020)", cx, 350, 0, AXIS_COLOR),
    ("<b>Normalized data of conventional ETFs</b>", cx, 388, 0, "black"),
    ("The recovery phase (24.3.-30.6.2020)", cx, 718, 0, AXIS_COLOR),
    ("Normalized ETF prices", 29 / 985, 167, -90, AXIS_COLOR),
    ("Normalized ETF prices", 29 / 985, 536, -90, AXIS_COLOR),
]
for text, x, ypx, ang, col in labels:
    fig.add_annotation(text=text, x=x, y=1 - ypx / 734, xref="paper", yref="paper",
                       xanchor="center", yanchor="middle", textangle=ang, showarrow=False,
                       font=dict(family=FONT, size=22, color=col))

fig.write_html("out.html", post_script="document.body.style.margin='0';")
